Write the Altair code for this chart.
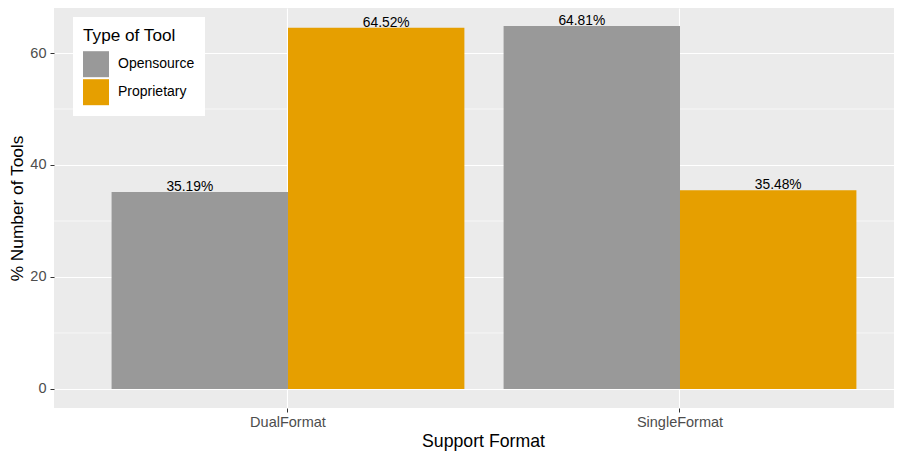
import altair as alt
import pandas as pd

formats = ["DualFormat", "DualFormat", "SingleFormat", "SingleFormat"]
tool_types = ["Opensource", "Proprietary", "Opensource", "Proprietary"]
percents = [35.19, 64.52, 64.81, 35.48]
labels = ["35.19%", "64.52%", "64.81%", "35.48%"]
minor_breaks = [10, 30, 50]

df = pd.DataFrame({"fmt": formats, "tool": tool_types, "pct": percents, "lab": labels})
minor_df = pd.DataFrame({"v": minor_breaks})

FONT = "Liberation Sans"
W, H = 840, 400

x_scale = alt.Scale(paddingInner=0.1, paddingOuter=0.1214, align=0.605)
y_scale = alt.Scale(domain=[-3.4, 68.04], nice=False, zero=False)

x_axis = alt.Axis(title="Support Format", labelAngle=0, bandPosition=0.5,
                  grid=True, gridColor="white", gridWidth=1.1,
                  domain=False, tickColor="#333333", tickSize=4, tickWidth=1,
                  labelColor="#4D4D4D", labelFontSize=14.5, labelFont=FONT,
                  labelPadding=3, titleFont=FONT, titleFontSize=17.7,
                  titleFontWeight="normal", titleColor="black",
                  titleX=429, titleY=38.5, titleBaseline="alphabetic")
y_axis = alt.Axis(title="% Number of Tools", values=[0, 20, 40, 60],
                  grid=True, gridColor="white", gridWidth=1.1,
                  domain=False, tickColor="#333333", tickSize=4, tickWidth=1,
                  labelColor="#4D4D4D", labelFontSize=14.5, labelFont=FONT,
                  labelPadding=4, titleFont=FONT, titleFontSize=17.3,
                  titleFontWeight="normal", titleColor="black",
                  titleX=-31.5, titleBaseline="alphabetic")

color = alt.Color("tool:N",
                  scale=alt.Scale(domain=["Opensource", "Proprietary"], range=["#999999", "#E69F00"]),
                  legend=alt.Legend(title="Type of Tool", orient="none", legendX=19, legendY=9,
                                    fillColor="white", padding=10, symbolType="square",
                                    symbolSize=676, symbolStrokeWidth=0, symbolOpacity=1,
                                    rowPadding=2, titlePadding=7, labelOffset=9,
                                    titleFont=FONT, titleFontSize=17.2, titleFontWeight="normal",
                                    titleColor="black", labelFont=FONT, labelFontSize=14,
                                    labelColor="black"))

base = alt.Chart(df)

minor = alt.Chart(minor_df).mark_rule(color="white", strokeWidth=0.6).encode(
    y=alt.Y("v:Q", scale=y_scale, axis=y_axis, title="% Number of Tools"))

bars = base.mark_bar().encode(
    x=alt.X("fmt:N", scale=x_scale, sort=["DualFormat", "SingleFormat"], axis=x_axis),
    y=alt.Y("pct:Q", scale=y_scale, axis=y_axis, title="% Number of Tools"),
    y2=alt.datum(0),
    xOffset=alt.XOffset("tool:N", scale=alt.Scale(paddingInner=0, paddingOuter=0)),
    color=color)

def text_layer(tool, dx):
    return base.transform_filter(alt.datum.tool == tool).mark_text(
        font=FONT, fontSize=13.8, color="black", baseline="alphabetic", dy=-1, dx=dx
    ).encode(
        x=alt.X("fmt:N", scale=x_scale, sort=["DualFormat", "SingleFormat"]),
        y=alt.Y("pct:Q", scale=y_scale),
        xOffset=alt.XOffset("tool:N", scale=alt.Scale(paddingInner=0, paddingOuter=0)),
        text="lab:N")

chart = alt.layer(minor, bars, text_layer("Opensource", -10), text_layer("Proprietary", 10)).properties(
    width=W, height=H, autosize="none",
    padding={"left": 46, "top": 0, "right": 0, "bottom": 45},
    background="white"
).configure_view(fill="#EBEBEB", stroke=None)

chart.save("out.html", embed_options={"renderer": "svg", "actions": False})
